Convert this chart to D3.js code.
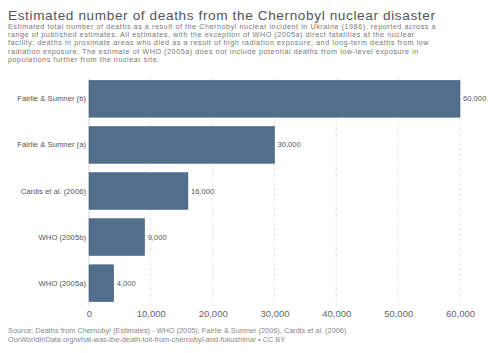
<!DOCTYPE html>
<html><head><meta charset="utf-8">
<script src="https://cdn.jsdelivr.net/npm/d3@7"></script>
<style>body{margin:0;background:#fff}svg{display:block;font-family:"Liberation Sans",Arial,sans-serif}</style>
</head><body><svg id="c" width="500" height="353"></svg>
<script>
const categories = ["Fairlie & Sumner (b)","Fairlie & Sumner (a)","Cardis et al. (2006)","WHO (2005b)","WHO (2005a)"];
const values = [60000,30000,16000,9000,4000];
const valueLabels = ["60,000","30,000","16,000","9,000","4,000"];
const tickValues = [0,10000,20000,30000,40000,50000,60000];
const title = "Estimated number of deaths from the Chernobyl nuclear disaster";
const subtitle = ["Estimated total number of deaths as a result of the Chernobyl nuclear incident in Ukraine (1986), reported across a",
"range of published estimates. All estimates, with the exception of WHO (2005a) direct fatalities at the nuclear",
"facility; deaths in proximate areas who died as a result of high radiation exposure; and long-term deaths from low",
"radiation exposure. The estimate of WHO (2005a) does not include potential deaths from low-level exposure in",
"populations further from the nuclear site."];
const source = ["Source: Deaths from Chernobyl (Estimates) - WHO (2005), Fairlie & Sumner (2006), Cardis et al. (2006)",
"OurWorldInData.org/what-was-the-death-toll-from-chernobyl-and-fukushima/ • CC BY"];

const svg = d3.select("#c");
svg.append("text").attr("x",8).attr("y",20).attr("font-size",13.6).attr("letter-spacing",0.62).attr("fill","#555").text(title);
subtitle.forEach((s,i)=>svg.append("text").attr("x",8).attr("y",28.6+i*8.3).attr("font-size",7.2).attr("letter-spacing",0.55).attr("fill","#777").text(s));

const x = d3.scaleLinear().domain([0,60000]).range([89,460]);
const y = d3.scaleBand().domain(categories).range([78,304]).paddingInner(0.2).paddingOuter(0.05);

const g = svg.append("g");
g.selectAll("line.grid").data(tickValues.slice(1)).join("line")
  .attr("x1",d=>x(d)).attr("x2",d=>x(d)).attr("y1",78).attr("y2",306)
  .attr("stroke","#ddd").attr("stroke-dasharray","3,2").attr("stroke-width",0.7);
g.append("line").attr("x1",x(0)).attr("x2",x(0)).attr("y1",78).attr("y2",306).attr("stroke","#ccc").attr("stroke-width",0.8);

g.selectAll("rect").data(values).join("rect")
  .attr("x",x(0)).attr("y",(d,i)=>y(categories[i]))
  .attr("width",d=>x(d)-x(0)).attr("height",y.bandwidth())
  .attr("fill","#4c6a8a").attr("stroke","#3f5a78").attr("stroke-width",0.5).attr("opacity",0.97);

g.selectAll("text.val").data(values).join("text")
  .attr("x",d=>x(d)+3).attr("y",(d,i)=>y(categories[i])+y.bandwidth()/2+2.5)
  .attr("font-size",7.6).attr("fill","#555").text((d,i)=>valueLabels[i]);

g.selectAll("text.cat").data(categories).join("text")
  .attr("x",86).attr("y",d=>y(d)+y.bandwidth()/2+2.5).attr("text-anchor","end")
  .attr("font-size",7.7).attr("fill","#555").text(d=>d);

const axis = d3.axisBottom(x).tickValues(tickValues).tickSize(0).tickPadding(0).tickFormat(d3.format(","));
const ax = svg.append("g").attr("transform","translate(0,310.5)").call(axis);
ax.select(".domain").remove();
ax.selectAll("text").attr("font-size",9.5).attr("fill","#666").attr("font-family","Liberation Sans, Arial, sans-serif");

source.forEach((s,i)=>svg.append("text").attr("x",8).attr("y",333+i*9.3).attr("font-size",7.35).attr("fill","#888").text(s));
</script></body></html>
